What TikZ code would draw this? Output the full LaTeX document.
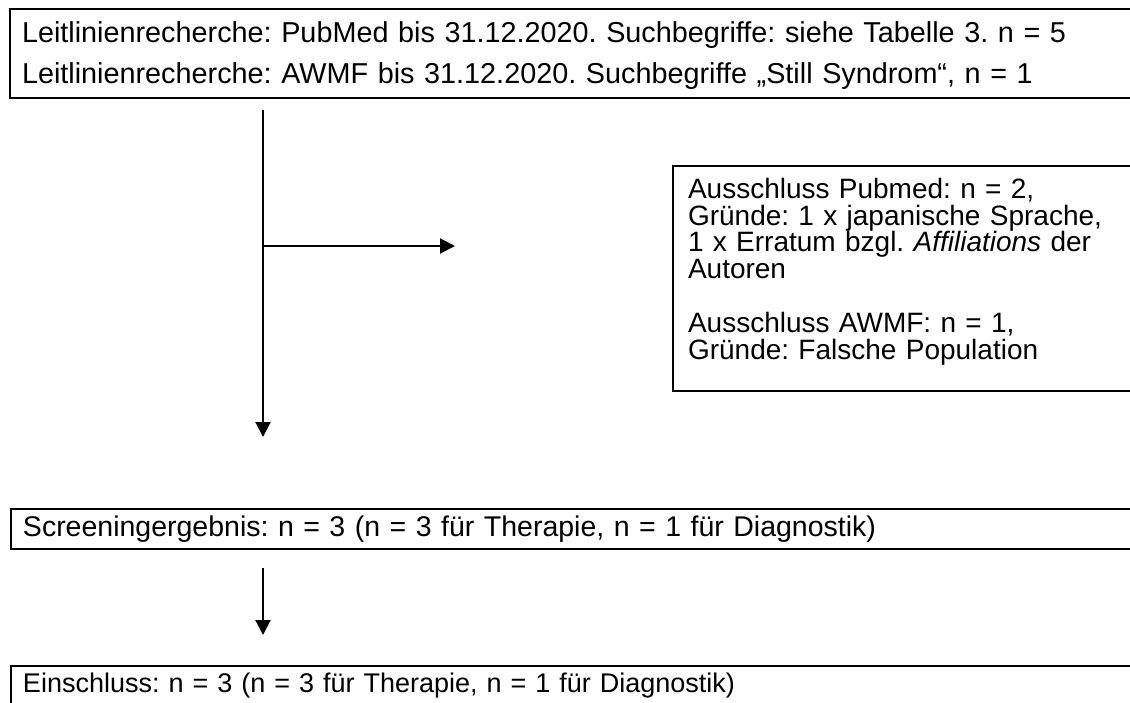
\documentclass[tikz,border=0pt]{standalone}
\usepackage{fontspec}
\setmainfont{Liberation Sans}
\usetikzlibrary{arrows.meta,positioning}

\tikzset{
  box/.style={draw, line width=2pt, anchor=north west, align=left,
    inner ysep=0pt, inner xsep=12pt, font=\fontsize{28}{26.7}\selectfont\frenchspacing},
  flow/.style={line width=2pt, -{Triangle[length=15pt,width=15pt]}}
}

\begin{document}
\begin{tikzpicture}[x=1pt,y=-1pt]
  \useasboundingbox (0,0) rectangle (1130,702);
  \clip (0,0) rectangle (1130,702);

  % boxes
  \node[box, text width=1200pt, minimum height=89pt, font=\fontsize{28.8}{26.7}\selectfont\frenchspacing] (search) at (9,8)
    {Leitlinienrecherche: PubMed bis 31.12.2020. Suchbegriffe: siehe Tabelle 3. n = 5\\[13pt]
     Leitlinienrecherche: AWMF bis 31.12.2020. Suchbegriffe „Still Syndrom“, n = 1\\[-24pt]\mbox{}};
  \node[box, text width=500pt, minimum height=225pt, inner xsep=15pt] (excl) at (672,165)
    {Ausschluss Pubmed: n = 2,\\
     Gründe: 1 x japanische Sprache,\\
     1 x Erratum bzgl. \textit{Affiliations} der\\
     Autoren\\[27pt]
     Ausschluss AWMF: n = 1,\\
     Gründe: Falsche Population\\[-7pt]\mbox{}};
  \node[box, text width=1200pt, minimum height=40pt, font=\fontsize{28.5}{26.7}\selectfont\frenchspacing] (screen) at (10,508)
    {Screeningergebnis: n = 3 (n = 3 für Therapie, n = 1 für Diagnostik)};
  \node[box, text width=1200pt, minimum height=40pt, font=\fontsize{27}{26.7}\selectfont\frenchspacing] (incl) at (10,665)
    {Einschluss: n = 3 (n = 3 für Therapie, n = 1 für Diagnostik)};

  % arrows
  \coordinate (v1) at (263,110);
  \coordinate (v2) at (263,437);
  \coordinate (b1) at (263,246);
  \coordinate (b2) at (455,246);
  \coordinate (v3) at (263,568);
  \coordinate (v4) at (263,635);
  \draw[flow] (v1) -- (v2);
  \draw[flow] (b1) -- (b2);
  \draw[flow] (v3) -- (v4);
\end{tikzpicture}
\end{document}
